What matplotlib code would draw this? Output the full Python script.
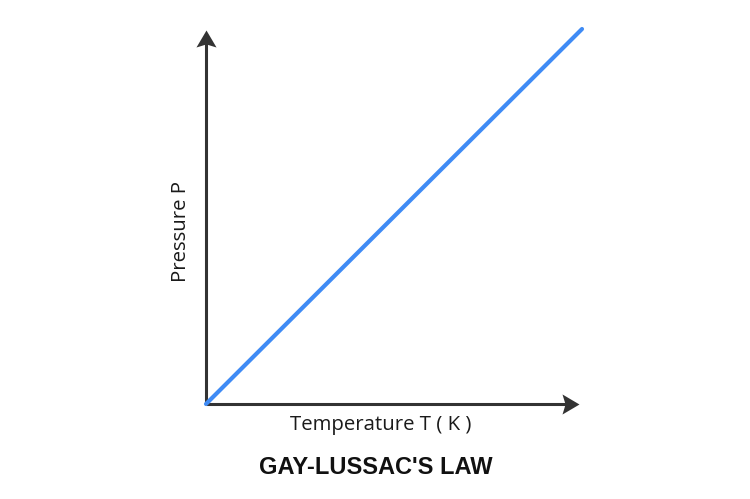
import matplotlib
matplotlib.use("Agg")
import matplotlib.pyplot as plt
from matplotlib.path import Path

# Data: Gay-Lussac's law, P proportional to T (arbitrary units)
temperature = [0, 100]
pressure = [0, 100]

x_label = "Temperature T ( K )"
y_label = "Pressure P"
title = "GAY-LUSSAC'S LAW"

W, H = 750, 499
fig = plt.figure(figsize=(W / 100, H / 100), dpi=100)
fig.patch.set_facecolor("white")

# axes placed so that origin sits at pixel (206, 404)
ax = fig.add_axes([206 / W, (H - 404) / H, 376 / W, 375 / H])
ax.set_xlim(0, 100)
ax.set_ylim(0, 100)
ax.axis("off")

axis_color = "#333333"
y_top = 0.997
x_right = 0.992

# notched (stealth-like) arrowheads with the tip at the path origin
up_head = Path([(0, 0), (0.59, -1), (0, -0.82), (-0.59, -1), (0, 0)],
               [Path.MOVETO, Path.LINETO, Path.LINETO, Path.LINETO, Path.CLOSEPOLY])
right_head = Path([(0, 0), (-1, 0.59), (-0.82, 0), (-1, -0.59), (0, 0)],
                  [Path.MOVETO, Path.LINETO, Path.LINETO, Path.LINETO, Path.CLOSEPOLY])
head_ms = 34 * 0.72

# axis lines
ax.plot([0, 0], [0, y_top - 0.02], transform=ax.transAxes, color=axis_color,
        lw=2.2, clip_on=False, solid_capstyle="butt")
ax.plot([0, x_right - 0.02], [0, 0], transform=ax.transAxes, color=axis_color,
        lw=2.2, clip_on=False, solid_capstyle="butt")
ax.plot([0], [y_top], transform=ax.transAxes, marker=up_head, ms=head_ms,
        color=axis_color, mew=0, clip_on=False, ls="none")
ax.plot([x_right], [0], transform=ax.transAxes, marker=right_head, ms=head_ms,
        color=axis_color, mew=0, clip_on=False, ls="none")

ax.plot(temperature, pressure, color="#3f8bf5", lw=3.0, solid_capstyle="round",
        clip_on=False, zorder=3)

fig.text(381 / W, 1 - 425 / H, x_label, ha="center", va="center",
         fontsize=14.7, family="Open Sans", color="#1a1a1a")
fig.text(181 / W, 1 - 232 / H, y_label, ha="center", va="center", rotation=90,
         fontsize=14.7, family="Open Sans", color="#1a1a1a")
fig.text(376 / W, 1 - 468 / H, title, ha="center", va="center",
         fontsize=17, family="Liberation Sans", fontweight="bold", color="#111111")

fig.savefig("out.png", dpi=100, facecolor="white")
